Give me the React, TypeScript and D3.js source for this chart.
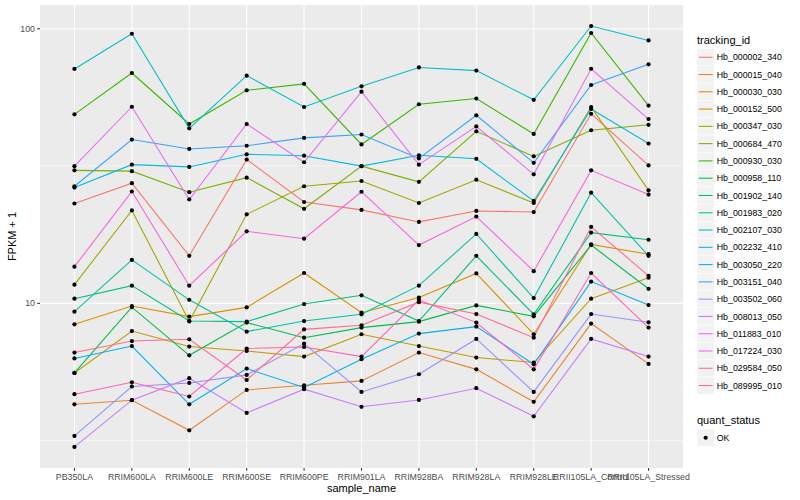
import React, { useRef, useEffect } from "react";
import * as d3 from "d3";

const W = 800;
const H = 500;
const margin = { top: 5, right: 117, bottom: 32, left: 40 };
const FONT = "'Liberation Sans', Arial, Helvetica, sans-serif";

const sampleNames = [
  "PB350LA", "RRIM600LA", "RRIM600LE", "RRIM600SE", "RRIM600PE", "RRIM901LA",
  "RRIM928BA", "RRIM928LA", "RRIM928LE", "RRII105LA_Control", "RRII105LA_Stressed",
];

const trackingIds = [
  "Hb_000002_340", "Hb_000015_040", "Hb_000030_030", "Hb_000152_500", "Hb_000347_030",
  "Hb_000684_470", "Hb_000930_030", "Hb_000958_110", "Hb_001902_140", "Hb_001983_020",
  "Hb_002107_030", "Hb_002232_410", "Hb_003050_220", "Hb_003151_040", "Hb_003502_060",
  "Hb_008013_050", "Hb_011883_010", "Hb_017224_030", "Hb_029584_050", "Hb_089995_010",
];

// FPKM + 1, one array per tracking_id, in sampleNames order
const hb000002_340 = [23.1, 27.4, 14.9, 33.4, 23.4, 21.9, 19.8, 21.7, 21.5, 49.0, 31.8];
const hb000015_040 = [4.29, 4.44, 3.45, 4.84, 5.03, 5.22, 6.62, 5.75, 4.38, 8.44, 6.02];
const hb000030_030 = [8.39, 9.78, 8.95, 9.67, 12.9, 9.25, 10.5, 12.85, 7.72, 16.4, 15.1];
const hb000152_500 = [5.58, 7.93, 6.96, 6.71, 6.4, 7.72, 6.99, 6.35, 6.09, 10.4, 12.4];
const hb000347_030 = [11.7, 21.8, 8.6, 21.1, 26.7, 27.9, 23.2, 28.2, 23.2, 51.9, 25.8];
const hb000684_470 = [30.5, 30.3, 25.4, 28.7, 22.1, 31.6, 27.7, 42.3, 34.3, 42.7, 44.7];
const hb000930_030 = [48.8, 69.0, 45.0, 59.7, 63.0, 37.9, 53.1, 55.7, 41.4, 96.5, 52.5];
const hb000958_110 = [5.58, 9.69, 6.47, 8.51, 7.5, 8.16, 8.58, 9.83, 8.97, 16.3, 11.3];
const hb001902_140 = [10.4, 11.6, 8.62, 8.58, 9.94, 10.7, 8.62, 14.9, 9.12, 18.1, 17.05];
const hb001983_020 = [9.33, 14.4, 10.3, 7.89, 8.62, 9.12, 11.6, 17.9, 10.45, 25.3, 14.9];
const hb002107_030 = [71.4, 95.9, 43.4, 67.5, 51.9, 61.7, 72.3, 70.4, 55.1, 102.3, 90.7];
const hb002232_410 = [26.4, 32.0, 31.4, 34.9, 34.5, 31.6, 34.6, 33.6, 23.6, 51.05, 38.2];
const hb003050_220 = [6.3, 6.99, 4.29, 5.79, 4.94, 6.26, 7.76, 8.23, 6.0, 12.0, 9.86];
const hb003151_040 = [26.7, 39.5, 36.5, 37.5, 40.05, 41.2, 33.7, 48.4, 32.5, 62.4, 74.2];
const hb003502_060 = [3.29, 4.98, 5.13, 5.49, 7.14, 4.76, 5.52, 7.42, 4.76, 9.14, 8.53];
const hb008013_050 = [3.0, 4.44, 5.34, 3.99, 4.87, 4.2, 4.45, 4.91, 3.88, 7.42, 6.4];
const hb011883_010 = [31.6, 52.0, 23.9, 45.0, 32.65, 59.0, 32.0, 44.1, 29.5, 71.5, 46.9];
const hb017224_030 = [13.6, 25.55, 11.6, 18.3, 17.2, 25.5, 16.3, 20.7, 13.1, 30.5, 24.9];
const hb029584_050 = [4.67, 5.16, 4.58, 6.85, 6.94, 6.4, 10.3, 8.51, 5.75, 12.9, 8.16];
const hb089995_010 = [6.62, 7.29, 7.4, 5.26, 8.04, 8.32, 10.1, 9.14, 7.5, 19.0, 12.6];

const seriesValues = [
  hb000002_340, hb000015_040, hb000030_030, hb000152_500, hb000347_030,
  hb000684_470, hb000930_030, hb000958_110, hb001902_140, hb001983_020,
  hb002107_030, hb002232_410, hb003050_220, hb003151_040, hb003502_060,
  hb008013_050, hb011883_010, hb017224_030, hb029584_050, hb089995_010,
];

const quantStatus = ["OK"];

// ggplot2 default hue palette for 20 levels
const palette = [
  "#F8766D", "#EA8331", "#D89000", "#C09B00", "#A3A500", "#7CAE00", "#39B600",
  "#00BB4E", "#00BF7D", "#00C1A3", "#00BFC4", "#00BAE0", "#00B0F6", "#35A2FF",
  "#9590FF", "#C77CFF", "#E76BF3", "#FA62DB", "#FF62BC", "#FF6C91",
];

const Chart: React.FC = () => {
  const svgRef = useRef<SVGSVGElement | null>(null);

  const drawChart = () => {
    if (!svgRef.current) return;
    const svg = d3.select(svgRef.current);
    svg.selectAll("*").remove();

    const left = margin.left;
    const right = W - margin.right;
    const top = margin.top;
    const bottom = H - margin.bottom;

    svg.append("rect").attr("width", W).attr("height", H).attr("fill", "#ffffff");

    const x = d3.scalePoint<string>().domain(sampleNames).range([left, right]).padding(0.6);

    // log scale with ggplot's 5% expansion in log space
    const all = seriesValues.flat();
    const lmin = Math.log10(d3.min(all) as number);
    const lmax = Math.log10(d3.max(all) as number);
    const pad = (lmax - lmin) * 0.05;
    const y = d3.scaleLog()
      .domain([Math.pow(10, lmin - pad), Math.pow(10, lmax + pad)])
      .range([bottom, top]);

    svg.append("rect")
      .attr("x", left).attr("y", top)
      .attr("width", right - left).attr("height", bottom - top)
      .attr("fill", "#EBEBEB");

    const majorY = [1, 10, 100, 1000].filter((v) => v >= y.domain()[0] && v <= y.domain()[1]);
    const minorY = [Math.sqrt(10), Math.sqrt(1000)].filter((v) => v >= y.domain()[0] && v <= y.domain()[1]);

    const grid = svg.append("g");
    grid.selectAll(".minor")
      .data(minorY).enter().append("line")
      .attr("x1", left).attr("x2", right)
      .attr("y1", (d) => y(d)).attr("y2", (d) => y(d))
      .attr("stroke", "#ffffff").attr("stroke-width", 0.53);
    grid.selectAll(".major")
      .data(majorY).enter().append("line")
      .attr("x1", left).attr("x2", right)
      .attr("y1", (d) => y(d)).attr("y2", (d) => y(d))
      .attr("stroke", "#ffffff").attr("stroke-width", 1.07);
    grid.selectAll(".vmajor")
      .data(sampleNames).enter().append("line")
      .attr("x1", (d) => x(d) as number).attr("x2", (d) => x(d) as number)
      .attr("y1", top).attr("y2", bottom)
      .attr("stroke", "#ffffff").attr("stroke-width", 1.07);

    const line = d3.line<number>()
      .x((_, i) => x(sampleNames[i]) as number)
      .y((d) => y(d));

    svg.append("g")
      .selectAll("path")
      .data(seriesValues).enter().append("path")
      .attr("d", (d) => line(d) as string)
      .attr("fill", "none")
      .attr("stroke", (_, i) => palette[i])
      .attr("stroke-width", 1.07);

    const pts = svg.append("g");
    seriesValues.forEach((vals) => {
      pts.selectAll(null)
        .data(vals).enter().append("circle")
        .attr("cx", (_, i) => x(sampleNames[i]) as number)
        .attr("cy", (d) => y(d))
        .attr("r", 2.1)
        .attr("fill", "#000000");
    });

    // y axis
    const yAxis = svg.append("g");
    majorY.forEach((v) => {
      yAxis.append("line")
        .attr("x1", left - 2.75).attr("x2", left)
        .attr("y1", y(v)).attr("y2", y(v))
        .attr("stroke", "#333333").attr("stroke-width", 1.07);
      yAxis.append("text")
        .attr("x", left - 5).attr("y", y(v)).attr("dy", "0.35em")
        .attr("text-anchor", "end")
        .attr("font-family", FONT).attr("font-size", 8.8)
        .attr("fill", "#4D4D4D")
        .text(d3.format("d")(v));
    });

    // x axis
    const xAxis = svg.append("g");
    sampleNames.forEach((s) => {
      const px = x(s) as number;
      xAxis.append("line")
        .attr("x1", px).attr("x2", px)
        .attr("y1", bottom).attr("y2", bottom + 2.75)
        .attr("stroke", "#333333").attr("stroke-width", 1.07);
      xAxis.append("text")
        .attr("x", px).attr("y", bottom + 12)
        .attr("text-anchor", "middle")
        .attr("font-family", FONT).attr("font-size", 8.8)
        .attr("fill", "#4D4D4D")
        .text(s);
    });

    svg.append("text")
      .attr("x", (left + right) / 2).attr("y", bottom + 24)
      .attr("text-anchor", "middle")
      .attr("font-family", FONT).attr("font-size", 11)
      .attr("fill", "#000000")
      .text("sample_name");

    svg.append("text")
      .attr("transform", `translate(16,${(top + bottom) / 2}) rotate(-90)`)
      .attr("text-anchor", "middle")
      .attr("font-family", FONT).attr("font-size", 11)
      .attr("fill", "#000000")
      .text("FPKM + 1");

    // legends
    const lx = 697;
    const keyH = 17.28;
    const leg = svg.append("g");
    leg.append("text")
      .attr("x", lx).attr("y", 43.5)
      .attr("font-family", FONT).attr("font-size", 11)
      .text("tracking_id");
    const firstKey = 48.6;
    trackingIds.forEach((id, i) => {
      const ky = firstKey + i * keyH;
      leg.append("rect")
        .attr("x", lx).attr("y", ky).attr("width", keyH).attr("height", keyH)
        .attr("fill", "#F2F2F2").attr("stroke", "#ffffff").attr("stroke-width", 0.5);
      leg.append("line")
        .attr("x1", lx + 1.7).attr("x2", lx + keyH - 1.7)
        .attr("y1", ky + keyH / 2).attr("y2", ky + keyH / 2)
        .attr("stroke", palette[i]).attr("stroke-width", 1.07);
      leg.append("text")
        .attr("x", lx + keyH + 2.5).attr("y", ky + keyH / 2).attr("dy", "0.35em")
        .attr("font-family", FONT).attr("font-size", 8.8)
        .text(id);
    });

    const qTitleY = 424;
    leg.append("text")
      .attr("x", lx).attr("y", qTitleY)
      .attr("font-family", FONT).attr("font-size", 11)
      .text("quant_status");
    quantStatus.forEach((q, i) => {
      const ky = qTitleY + 5.1 + i * keyH;
      leg.append("rect")
        .attr("x", lx).attr("y", ky).attr("width", keyH).attr("height", keyH)
        .attr("fill", "#F2F2F2").attr("stroke", "#ffffff").attr("stroke-width", 0.5);
      leg.append("circle")
        .attr("cx", lx + keyH / 2).attr("cy", ky + keyH / 2).attr("r", 2.1)
        .attr("fill", "#000000");
      leg.append("text")
        .attr("x", lx + keyH + 2.5).attr("y", ky + keyH / 2).attr("dy", "0.35em")
        .attr("font-family", FONT).attr("font-size", 8.8)
        .text(q);
    });
  };

  useEffect(() => {
    drawChart();
  }, []);

  return (
    <svg
      ref={svgRef}
      width={W}
      height={H}
      style={{ position: "absolute", left: 0, top: 0, display: "block" }}
    ></svg>
  );
};

export default function App() {
  return <Chart />;
}
